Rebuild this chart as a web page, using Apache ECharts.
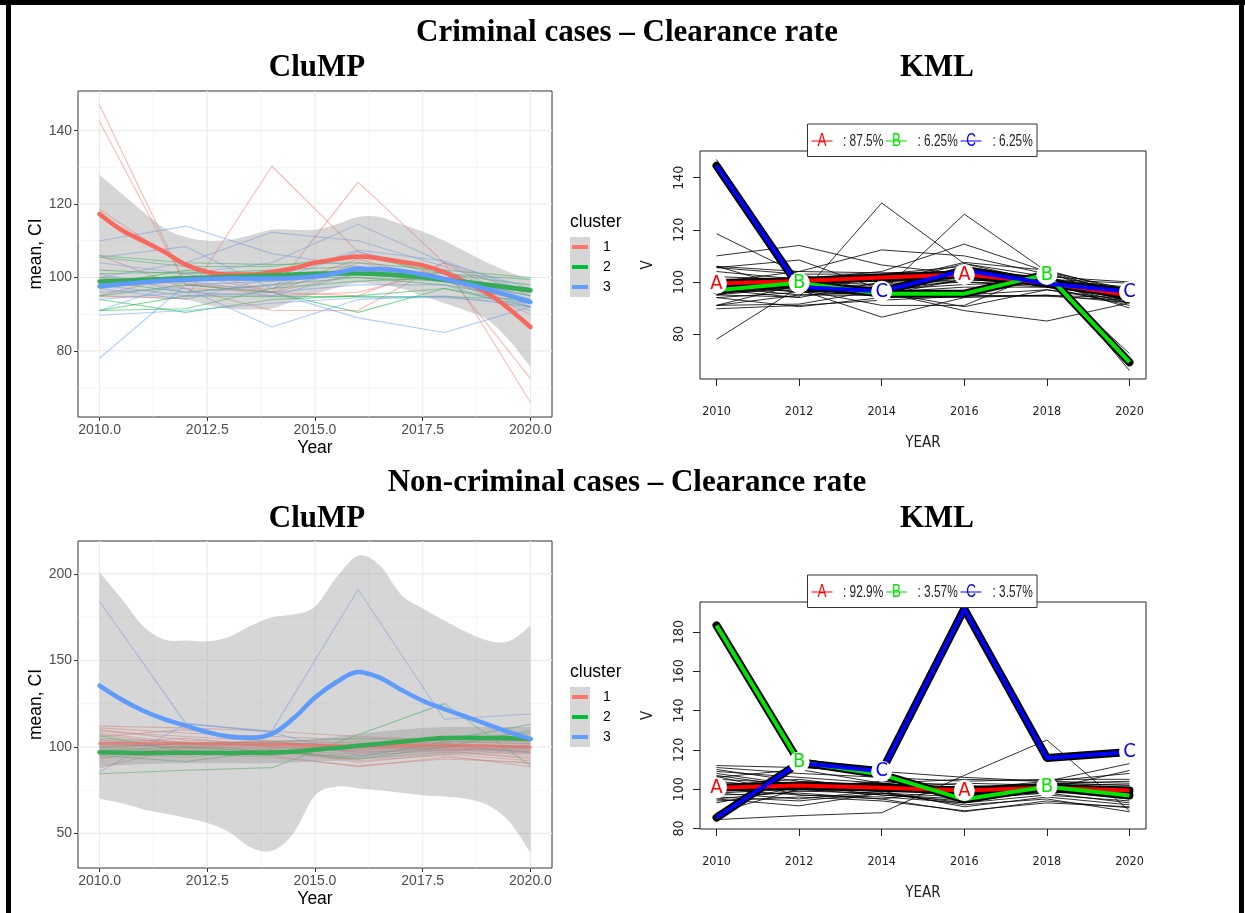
<!DOCTYPE html>
<html><head><meta charset="utf-8">
<script src="https://cdn.jsdelivr.net/npm/echarts@6/dist/echarts.min.js"></script>
<style>html,body{margin:0;padding:0;background:#fff}#c{width:1245px;height:913px}</style>
</head><body><div id="c"></div><script>
// ---------------- DATA ----------------
const years = [2010, 2012, 2014, 2016, 2018, 2020];

// Criminal cases: individual trajectories grouped by CluMP cluster
const crimClust1 = [
  [147, 98, 97, 105, 99, 96],
  [142.5, 98, 96, 104, 100, 96.5],
  [95, 101, 96, 95, 104, 66],
  [98.5, 98.5, 95, 96, 102, 72.5],
  [118.5, 103, 96, 101, 99, 93],
  [95, 94.2, 130.3, 107, 100, 90],
  [100, 97, 96, 126, 104, 92],
  [106, 97, 91, 91, 104, 95]
];
const crimClust2 = [
  [106, 104, 103.5, 104, 102, 100],
  [105.5, 103, 103, 106, 101, 99.5],
  [102, 101, 102, 103, 100, 97],
  [101, 101.5, 100, 100, 99, 96],
  [100, 99, 101, 102, 100, 95],
  [99, 96, 98, 100, 98, 94],
  [95, 98, 96, 90.5, 97, 92],
  [94, 90.5, 94, 95, 97, 93],
  [91, 91.5, 97, 99, 100, 97],
  [91, 95, 94.8, 94.8, 94.8, 94],
  [98, 102, 100, 102, 101, 98],
  [97, 100, 99, 101, 99, 96]
];
const crimClust3 = [
  [110, 114, 106.5, 103, 100, 95],
  [105.5, 108.4, 97, 102, 99, 94],
  [100, 104, 112.3, 110, 103, 96],
  [104, 101, 104, 114.5, 104, 97],
  [78, 98, 99, 107, 102, 94],
  [89.7, 91, 93, 94.5, 94.5, 93],
  [96, 97, 86.5, 94, 95, 92],
  [98, 95, 96, 89, 85, 92],
  [91, 99, 96, 98, 98, 91],
  [101, 96, 95, 101, 99, 92],
  [94, 96, 98, 103, 100, 93],
  [97, 94, 100, 107.5, 104.5, 96]
];
// CluMP smoothed cluster means (criminal)
const crimSmoothX = [2010, 2010.5, 2011, 2011.5, 2012, 2012.5, 2013, 2013.5, 2014, 2014.5, 2015, 2015.5, 2016, 2016.5, 2017, 2017.5, 2018, 2018.5, 2019, 2019.5, 2020];
const crimSmooth1 = [117.3, 113, 110, 107, 103.5, 101.5, 100.8, 100.8, 101.5, 102.5, 104, 105, 105.7, 105.2, 104.3, 103.3, 101.4, 98.8, 95.8, 91.5, 86.5];
const crimSmooth2 = [98.9, 99.1, 99.4, 99.6, 99.8, 100, 100.2, 100.4, 100.6, 100.8, 101, 101.1, 101.1, 100.9, 100.6, 100.1, 99.3, 98.7, 98, 97.3, 96.5];
const crimSmooth3 = [97.6, 98.2, 98.7, 99.1, 99.4, 99.6, 99.7, 99.7, 99.7, 99.9, 100.3, 101.2, 102.3, 102.3, 101.8, 100.8, 99.6, 98.3, 96.8, 95.1, 93.3];
// confidence band (criminal)
const crimBandLow  = [94.5, 94.5, 94.5, 94.2, 94, 92.5, 91.5, 91.3, 91.5, 93.5, 95.5, 97.2, 98.5, 98, 97, 95, 93, 91, 88.5, 83, 75.7];
const crimBandHigh = [128, 123, 118, 113.5, 111, 110, 110.2, 111.5, 113, 113, 113, 114.5, 116.5, 116.5, 114.5, 112.5, 110, 107, 104, 101.5, 99.5];

// Non-criminal cases: trajectories by CluMP cluster
const nonClust1 = [
  [112, 111, 109, 106, 104, 103],
  [111, 108, 106, 104, 105, 105],
  [110, 104, 102, 101, 103, 102],
  [109, 106, 103, 100, 102, 100],
  [108, 102, 101, 99, 101, 99],
  [107, 101, 104, 102, 100, 101],
  [106, 110, 103, 100, 99, 98],
  [105, 103, 100, 98, 101, 97],
  [104, 100, 101, 103, 102, 100],
  [103, 99, 98, 96, 100, 96],
  [102, 105, 100, 97, 99, 95],
  [101, 100, 99, 101, 98, 99],
  [100, 97, 96, 93, 97, 94],
  [99, 102, 97, 95, 98, 93],
  [98, 95, 99, 91, 96, 92],
  [97, 98, 95, 88.5, 94, 90.5],
  [96, 94, 98, 92, 95, 88.5],
  [95, 99, 100, 98, 100, 97],
  [94, 96, 94, 89, 93, 91],
  [88, 100, 102, 99, 103, 102],
  [93, 101, 103, 97, 98, 100]
];
const nonClust2 = [
  [84.5, 86.5, 88, 107, 125, 89],
  [106.5, 97, 95, 100, 104, 113],
  [95, 91.5, 98, 93, 100, 109.5],
  [98, 100, 97, 94, 103, 104],
  [100, 102, 103, 105, 104, 108]
];
const nonClust3 = [
  [184, 113.6, 108.4, 95, 101.5, 96.5],
  [85.5, 113.3, 109.1, 191, 116, 119]
];
const nonSmoothX = crimSmoothX;
const nonSmooth1 = [102, 102, 102, 102, 102, 101.8, 101.7, 101.6, 101.5, 101.2, 101, 100.7, 100.5, 100.6, 100.8, 101, 101, 100.8, 100.5, 100.2, 100];
const nonSmooth2 = [96.9, 96.7, 96.5, 96.5, 96.6, 96.6, 96.5, 96.6, 96.8, 97.3, 98.4, 99.4, 100.6, 101.8, 103, 104.2, 105.2, 105.3, 105.2, 105, 104.6];
const nonSmooth3 = [135.4, 127.5, 121, 116, 112.3, 108.5, 106, 105.3, 107.5, 116.5, 128.5, 137.5, 143.3, 140, 133, 126.7, 121.9, 117.5, 113, 108.5, 104.6];
const nonBandLow  = [70, 67.5, 64, 61.5, 59, 56, 51, 42, 40, 50, 72, 77, 76, 75, 73.5, 72, 71.3, 70, 66.5, 57, 39];
const nonBandHigh = [201, 186, 170, 162, 161.5, 161, 163.5, 170, 175, 176.5, 181, 198, 210.5, 205, 188, 180, 173, 166.5, 161.5, 161, 170];
const nonBand2X = [2010, 2011, 2012, 2013, 2014, 2015, 2016, 2017, 2018, 2019, 2020];
const nonBand2Low  = [89, 90, 90.5, 90.5, 90.5, 91.5, 92.5, 94, 95.5, 96, 96];
const nonBand2High = [105, 103.5, 103, 103, 103, 104.5, 107.5, 110, 111.5, 111.5, 111.5];

// KML cluster mean trajectories
const crimKmlA = [99.4, 100.4, 101.7, 102.9, 99.6, 94.9];
const crimKmlB = [96.8, 99.7, 95.5, 95.5, 102.9, 69.2];
const crimKmlC = [144.6, 98.1, 96.4, 104.5, 99.4, 96.2];
const crimKmlPct = [': 87.5%', ': 6.25%', ': 6.25%'];
const nonKmlA = [100.7, 101.9, 100.7, 99.3, 100.7, 99.3];
const nonKmlB = [183.4, 113.8, 107.4, 94.8, 101.2, 96.8];
const nonKmlC = [85.5, 113.3, 109.1, 191.8, 115.9, 118.9];
const nonKmlPct = [': 92.9%', ': 3.57%', ': 3.57%'];
const kmlLetters = ['A', 'B', 'C'];

// ticks
const clumpXTicks = [2010, 2012.5, 2015, 2017.5, 2020];
const clumpXLabels = ['2010.0', '2012.5', '2015.0', '2017.5', '2020.0'];
const clumpXMinor = [2011.25, 2013.75, 2016.25, 2018.75];
const crimYTicks = [80, 100, 120, 140];
const crimYMinor = [70, 90, 110, 130, 150];
const nonYTicks = [50, 100, 150, 200];
const nonYMinor = [75, 125, 175];
const kmlXTicks = [2010, 2012, 2014, 2016, 2018, 2020];
const kmlXLabels = ['2010', '2012', '2014', '2016', '2018', '2020'];
const kmlCrimYTicks = [80, 100, 120, 140];
const kmlNonYTicks = [80, 100, 120, 140, 160, 180];
const clusterLabels = ['1', '2', '3'];

// ---------------- STYLE ----------------
const ggCols = ['#F8766D', '#00BA38', '#619CFF'];
const smoothCols = ['#F5695F', '#34AC55', '#5E9BFB'];
const kmlCols = ['#FF0000', '#00E400', '#0000FF'];
const sans = '"Liberation Sans", Arial, sans-serif';
const narrow = '"Liberation Sans Narrow", "DejaVu Sans Condensed", "Arial Narrow", sans-serif';
const serif = '"Liberation Serif", "Times New Roman", serif';
const ribbonFill = 'rgba(153,153,153,0.4)';

const series = [];

function gridLines(idx, xMaj, xMin, yMaj, yMin) {
  return {
    type: 'custom', xAxisIndex: idx, yAxisIndex: idx, z: 0, silent: true,
    data: [[xMaj[0], yMaj[0]]],
    renderItem(params, api) {
      const cs = params.coordSys;
      const ch = [];
      const v = (val, w, c) => { const x = api.coord([val, yMaj[0]])[0]; ch.push({type: 'line', shape: {x1: x, y1: cs.y, x2: x, y2: cs.y + cs.height}, style: {stroke: c, lineWidth: w}}); };
      const h = (val, w, c) => { const y = api.coord([xMaj[0], val])[1]; ch.push({type: 'line', shape: {x1: cs.x, y1: y, x2: cs.x + cs.width, y2: y}, style: {stroke: c, lineWidth: w}}); };
      xMin.forEach(a => v(a, 0.6, '#F0F0F0'));
      yMin.forEach(a => h(a, 0.6, '#F0F0F0'));
      xMaj.forEach(a => v(a, 1.1, '#EBEBEB'));
      yMaj.forEach(a => h(a, 1.1, '#EBEBEB'));
      return {type: 'group', children: ch};
    }
  };
}

function curve(p) {
  let s = '';
  for (let i = 0; i < p.length - 1; i++) {
    const p0 = p[i - 1] || p[i], p1 = p[i], p2 = p[i + 1], p3 = p[i + 2] || p[i + 1];
    const c1x = p1[0] + (p2[0] - p0[0]) / 6, c1y = p1[1] + (p2[1] - p0[1]) / 6;
    const c2x = p2[0] - (p3[0] - p1[0]) / 6, c2y = p2[1] - (p3[1] - p1[1]) / 6;
    s += ' C' + c1x + ' ' + c1y + ' ' + c2x + ' ' + c2y + ' ' + p2[0] + ' ' + p2[1];
  }
  return s;
}

function ribbon(idx, xs, lo, hi, z) {
  return {
    type: 'custom', xAxisIndex: idx, yAxisIndex: idx, z: z, silent: true,
    data: [[xs[0], lo[0]]],
    renderItem(params, api) {
      const up = xs.map((x, i) => api.coord([x, hi[i]]));
      const dn = xs.map((x, i) => api.coord([x, lo[i]])).reverse();
      const d = 'M' + up[0][0] + ' ' + up[0][1] + curve(up) + ' L' + dn[0][0] + ' ' + dn[0][1] + curve(dn) + ' Z';
      return {type: 'path', shape: {pathData: d}, style: {fill: ribbonFill, stroke: null}};
    }
  };
}

function traj(idx, list, color, width, opacity, z) {
  list.forEach(t => series.push({
    type: 'line', xAxisIndex: idx, yAxisIndex: idx, z: z, silent: true,
    data: years.map((y, i) => [y, t[i]]), symbol: 'none',
    lineStyle: {color: color, width: width, opacity: opacity}
  }));
}

function smoothLine(idx, xs, ys, color, width, opacity) {
  series.push({
    type: 'line', xAxisIndex: idx, yAxisIndex: idx, z: 5, silent: true, smooth: 0.35,
    data: xs.map((x, i) => [x, ys[i]]), symbol: 'none',
    lineStyle: {color: color, width: width, cap: 'round', opacity: opacity == null ? 1 : opacity}
  });
}

function kmlMean(idx, ys, k) {
  const data = years.map((y, i) => [y, ys[i]]);
  series.push({type: 'line', xAxisIndex: idx, yAxisIndex: idx, z: 5, silent: true, data, symbol: 'none',
    lineStyle: {color: '#000', width: 8, cap: 'round', join: 'round'}});
  series.push({type: 'line', xAxisIndex: idx, yAxisIndex: idx, z: 6, silent: true, data, symbol: 'none',
    lineStyle: {color: kmlCols[k], width: 4, join: 'round'}});
  series.push({type: 'scatter', xAxisIndex: idx, yAxisIndex: idx, z: 7, silent: true,
    data: data.filter((d, i) => i % 3 === k),
    symbol: 'circle', symbolSize: 21, itemStyle: {color: '#fff', opacity: 1},
    label: {show: true, position: 'inside', formatter: kmlLetters[k], color: kmlCols[k], fontSize: 20, fontFamily: narrow}});
}

// --- panel 0: criminal CluMP
series.push(gridLines(0, clumpXTicks, clumpXMinor, crimYTicks, crimYMinor));
traj(0, crimClust1, ggCols[0], 1.1, 0.5, 2);
traj(0, crimClust2, ggCols[1], 1.1, 0.5, 2);
traj(0, crimClust3, ggCols[2], 1.1, 0.5, 2);
series.push(ribbon(0, crimSmoothX, crimBandLow, crimBandHigh, 3));
smoothLine(0, crimSmoothX, crimSmooth1, smoothCols[0], 4.5);
smoothLine(0, crimSmoothX, crimSmooth2, smoothCols[1], 4.5);
smoothLine(0, crimSmoothX, crimSmooth3, smoothCols[2], 4.5);

// --- panel 1: criminal KML
traj(1, crimClust1.concat(crimClust2, crimClust3), '#000', 0.9, 0.9, 2);
kmlMean(1, crimKmlA, 0);
kmlMean(1, crimKmlB, 1);
kmlMean(1, crimKmlC, 2);

// --- panel 2: non-criminal CluMP
series.push(gridLines(2, clumpXTicks, clumpXMinor, nonYTicks, nonYMinor));
traj(2, nonClust1, ggCols[0], 1.1, 0.5, 2);
traj(2, nonClust2, ggCols[1], 1.1, 0.5, 2);
traj(2, nonClust3, ggCols[2], 1.1, 0.5, 2);
series.push(ribbon(2, nonSmoothX, nonBandLow, nonBandHigh, 3));
series.push(ribbon(2, nonBand2X, nonBand2Low, nonBand2High, 3));
smoothLine(2, nonSmoothX, nonSmooth1, smoothCols[0], 3, 0.6);
smoothLine(2, nonSmoothX, nonSmooth2, smoothCols[1], 4.5);
smoothLine(2, nonSmoothX, nonSmooth3, smoothCols[2], 4.5);

// --- panel 3: non-criminal KML
traj(3, nonClust1.concat(nonClust2, nonClust3), '#000', 0.9, 0.9, 2);
kmlMean(3, nonKmlA, 0);
kmlMean(3, nonKmlB, 1);
kmlMean(3, nonKmlC, 2);

// ---------------- AXES ----------------
function ggX(idx) {
  return {gridIndex: idx, type: 'value', min: 2009.5, max: 2020.5,
    axisLine: {show: false}, splitLine: {show: false},
    axisTick: {show: true, length: 4, lineStyle: {color: '#333'}, customValues: clumpXTicks},
    axisLabel: {customValues: clumpXTicks, formatter: v => clumpXLabels[clumpXTicks.indexOf(v)], color: '#4D4D4D', fontSize: 14, margin: 6, fontFamily: sans},
    name: 'Year', nameLocation: 'middle', nameGap: 22, nameTextStyle: {color: '#000', fontSize: 17.5, fontFamily: sans}};
}
function ggY(idx, min, max, ticks) {
  return {gridIndex: idx, type: 'value', min, max,
    axisLine: {show: false}, splitLine: {show: false},
    axisTick: {show: true, length: 4, lineStyle: {color: '#333'}, customValues: ticks},
    axisLabel: {customValues: ticks, color: '#4D4D4D', fontSize: 14, margin: 6, fontFamily: sans},
    name: 'mean, CI', nameLocation: 'middle', nameGap: 30, nameRotate: 90, nameTextStyle: {color: '#000', fontSize: 17.5, fontFamily: sans}};
}
function rX(idx) {
  return {gridIndex: idx, type: 'value', min: 2009.6, max: 2020.4,
    axisLine: {show: false}, splitLine: {show: false},
    axisTick: {show: true, length: 7, lineStyle: {color: '#222'}, customValues: kmlXTicks},
    axisLabel: {customValues: kmlXTicks, formatter: v => kmlXLabels[kmlXTicks.indexOf(v)], color: '#222', fontSize: 12.5, margin: 26, fontFamily: narrow},
    name: 'YEAR', nameLocation: 'middle', nameGap: 57, nameTextStyle: {color: '#222', fontSize: 15, fontFamily: narrow}};
}
function rY(idx, min, max, ticks) {
  return {gridIndex: idx, type: 'value', min, max,
    axisLine: {show: false}, splitLine: {show: false},
    axisTick: {show: true, length: 7, lineStyle: {color: '#222'}, customValues: ticks},
    axisLabel: {customValues: ticks, rotate: 90, color: '#222', fontSize: 14, margin: 14, fontFamily: narrow},
    name: 'V', nameLocation: 'middle', nameGap: 44, nameRotate: 90, nameTextStyle: {color: '#222', fontSize: 15, fontFamily: narrow}};
}

// ---------------- GRAPHIC (titles, legends, frame) ----------------
const graphic = [];
function txt(x, y, text, font, color, align, sx) {
  graphic.push({type: 'text', x, y, scaleX: sx || 1, silent: true, z: 150, style: {text, font, fill: color || '#000', align: align || 'center', verticalAlign: 'middle', textAlign: align || 'center', textVerticalAlign: 'middle'}});
}
txt(627, 33, 'Criminal cases – Clearance rate', 'bold 31px ' + serif);
txt(317, 68, 'CluMP', 'bold 31px ' + serif);
txt(937, 68, 'KML', 'bold 31px ' + serif);
txt(627, 483, 'Non-criminal cases – Clearance rate', 'bold 31px ' + serif);
txt(317, 519, 'CluMP', 'bold 31px ' + serif);
txt(937, 519, 'KML', 'bold 31px ' + serif);

function ggLegend(y0) {
  txt(570, y0, 'cluster', '17.5px ' + sans, '#000', 'left');
  graphic.push({type: 'rect', silent: true, shape: {x: 570, y: y0 + 15, width: 20, height: 60}, style: {fill: '#D6D6D6'}});
  clusterLabels.forEach((lab, k) => {
    const y = y0 + 25 + 20 * k;
    graphic.push({type: 'line', silent: true, shape: {x1: 572, y1: y, x2: 588, y2: y}, style: {stroke: ggCols[k], lineWidth: 4}});
    txt(603, y, lab, '14px ' + sans, '#000', 'left');
  });
}
ggLegend(222);
ggLegend(672);

function kmlLegend(top, pct) {
  graphic.push({type: 'rect', silent: true, z: 100, shape: {x: 807.5, y: top, width: 229.5, height: 32.5}, style: {fill: '#fff', stroke: '#333', lineWidth: 1}});
  const lx = [811.5, 886, 960.5], tx = [843, 917.5, 992.5];
  kmlLetters.forEach((L, k) => {
    const y = top + 17;
    graphic.push({type: 'line', silent: true, z: 101, shape: {x1: lx[k], y1: y, x2: lx[k] + 21, y2: y}, style: {stroke: kmlCols[k], lineWidth: 1}});
    graphic.push({type: 'text', silent: true, z: 102, x: lx[k] + 10.5, y: y, scaleX: 0.75, style: {text: L, font: '18px ' + sans, fill: kmlCols[k], align: 'center', verticalAlign: 'middle', textAlign: 'center', textVerticalAlign: 'middle'}});
    graphic.push({type: 'text', silent: true, z: 102, x: tx[k], y: y, scaleX: 0.72, style: {text: pct[k], font: '16.5px ' + sans, fill: '#222', align: 'left', verticalAlign: 'middle', textAlign: 'left', textVerticalAlign: 'middle'}});
  });
}
kmlLegend(124, crimKmlPct);
kmlLegend(575, nonKmlPct);

// frame
graphic.push({type: 'rect', silent: true, z: 200, shape: {x: 0, y: 0, width: 1245, height: 5}, style: {fill: '#000'}});
graphic.push({type: 'rect', silent: true, z: 200, shape: {x: 6, y: 0, width: 5, height: 913}, style: {fill: '#000'}});
graphic.push({type: 'rect', silent: true, z: 200, shape: {x: 1239, y: 0, width: 5, height: 913}, style: {fill: '#000'}});

const chart = echarts.init(document.getElementById('c'), null, {renderer: 'canvas'});
chart.setOption({
  animation: false,
  backgroundColor: '#fff',
  grid: [
    {left: 78, top: 91, width: 474, height: 326, show: true, borderColor: '#333', borderWidth: 1, backgroundColor: '#fff'},
    {left: 700, top: 151, width: 446, height: 228, show: true, borderColor: '#222', borderWidth: 1, backgroundColor: '#fff'},
    {left: 78, top: 541, width: 474, height: 327, show: true, borderColor: '#333', borderWidth: 1, backgroundColor: '#fff'},
    {left: 700, top: 602, width: 446, height: 227, show: true, borderColor: '#222', borderWidth: 1, backgroundColor: '#fff'}
  ],
  xAxis: [ggX(0), rX(1), ggX(2), rX(3)],
  yAxis: [ggY(0, 62, 150.8, crimYTicks), rY(1, 62.76, 150.24, kmlCrimYTicks), ggY(2, 30, 219, nonYTicks), rY(3, 79.7, 195.3, kmlNonYTicks)],
  series: series,
  graphic: graphic
});
</script></body></html>
